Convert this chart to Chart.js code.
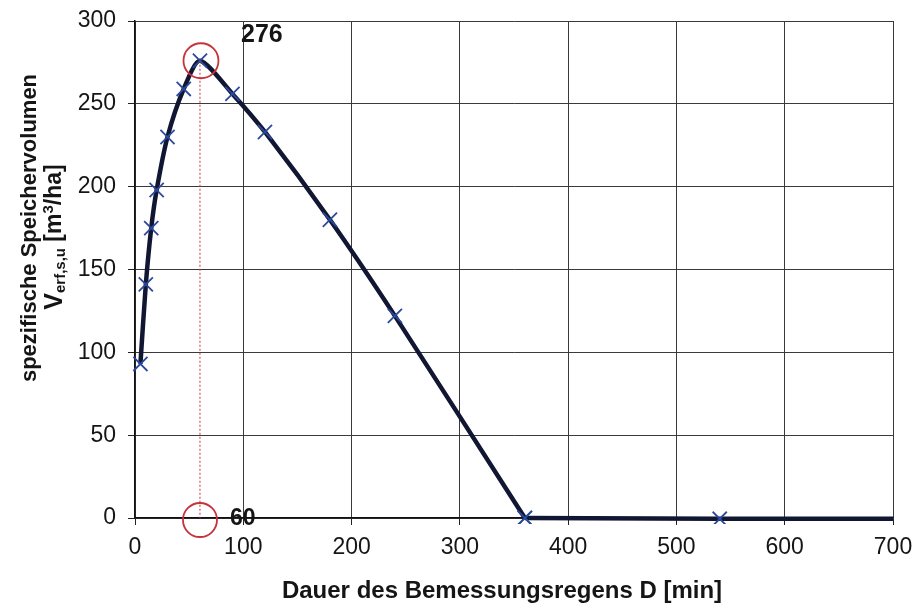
<!DOCTYPE html>
<html><head><meta charset="utf-8">
<script src="https://cdn.jsdelivr.net/npm/chart.js@4/dist/chart.umd.min.js"></script>
<style>html,body{margin:0;padding:0;background:#fff;}canvas{display:block;}</style>
</head><body>
<canvas id="c" width="915" height="607"></canvas>
<script>
// Data
const durations = [5, 10, 15, 20, 30, 45, 60, 90, 120, 180, 240, 360, 540, 720];
const volumes   = [93, 141, 175, 198, 230, 259, 276, 256, 233, 180, 122, 0, -0.5, -0.5];
const xTicks = [0, 100, 200, 300, 400, 500, 600, 700];
const yTicks = [0, 50, 100, 150, 200, 250, 300];
const peakDuration = 60;
const peakVolume = 276;
const xTitle = 'Dauer des Bemessungsregens D [min]';
const yTitleLine1 = 'spezifische Speichervolumen';

const FONT = '"Liberation Sans", Arial, sans-serif';
const pts = durations.map((d, i) => ({x: d, y: volumes[i]}));
const splitAt = durations.indexOf(360);

const annotate = {
  id: 'annotate',
  afterDatasetsDraw(chart) {
    const ctx = chart.ctx, xs = chart.scales.x, ys = chart.scales.y;
    const px = xs.getPixelForValue(peakDuration);
    const py = ys.getPixelForValue(peakVolume);
    const p0 = ys.getPixelForValue(0);
    ctx.save();
    ctx.strokeStyle = '#c8323a';
    ctx.lineWidth = 1;
    ctx.setLineDash([2, 2]);
    ctx.beginPath(); ctx.moveTo(px, py); ctx.lineTo(px, p0); ctx.stroke();
    ctx.setLineDash([]);
    ctx.lineWidth = 1.8;
    ctx.beginPath(); ctx.arc(px + 1, py, 17.5, 0, Math.PI * 2); ctx.stroke();
    ctx.beginPath(); ctx.arc(px, p0 + 2, 17, 0, Math.PI * 2); ctx.stroke();
    ctx.fillStyle = '#151515';
    ctx.textBaseline = 'middle';
    ctx.textAlign = 'left';
    ctx.font = 'bold 25px ' + FONT;
    ctx.fillText(String(peakVolume), px + 41, py - 26);
    ctx.font = 'bold 23px ' + FONT;
    ctx.fillText(String(peakDuration), px + 30, p0 + 1);
    ctx.restore();
  },
  afterDraw(chart) {
    const ctx = chart.ctx;
    ctx.save();
    ctx.fillStyle = '#151515';
    ctx.font = 'bold 24px ' + FONT;
    ctx.textAlign = 'center';
    ctx.textBaseline = 'alphabetic';
    ctx.fillText(xTitle, 502, 598);
    ctx.textBaseline = 'middle';
    ctx.save();
    ctx.translate(30, 228);
    ctx.rotate(-Math.PI / 2);
    ctx.font = 'bold 22px ' + FONT;
    ctx.fillText(yTitleLine1, 0, 0);
    ctx.restore();
    ctx.save();
    ctx.translate(55, 237);
    ctx.rotate(-Math.PI / 2);
    const parts = [
      {t: 'V', f: 'bold 25px ', dy: 0},
      {t: 'erf,s,u', f: 'bold 15px ', dy: 6},
      {t: ' [m', f: 'bold 23px ', dy: 0},
      {t: '3', f: 'bold 15px ', dy: -6},
      {t: '/ha]', f: 'bold 23px ', dy: 0}
    ];
    let total = 0;
    parts.forEach(p => { ctx.font = p.f + FONT; p.w = ctx.measureText(p.t).width; total += p.w; });
    let x = -total / 2;
    ctx.textAlign = 'left';
    parts.forEach(p => { ctx.font = p.f + FONT; ctx.fillText(p.t, x, p.dy); x += p.w; });
    ctx.restore();
    ctx.restore();
  }
};

const common = {
  borderColor: '#111733',
  borderWidth: 4.5,
  tension: 0.25,
  pointStyle: 'crossRot',
  pointRadius: 10,
  pointBorderColor: '#2b4a9c',
  pointBorderWidth: 1.8,
  pointHoverRadius: 10,
  fill: false,
  clip: {left: 5, top: 5, right: 0, bottom: 6}
};

new Chart(document.getElementById('c'), {
  type: 'line',
  data: {
    datasets: [
      Object.assign({data: pts.slice(0, splitAt + 1)}, common),
      Object.assign({data: pts.slice(splitAt)}, common, {tension: 0})
    ]
  },
  options: {
    responsive: false,
    animation: false,
    events: [],
    layout: {padding: {top: 21, right: 22, left: 0, bottom: 0}},
    plugins: {legend: {display: false}, tooltip: {enabled: false}},
    scales: {
      x: {
        type: 'linear', min: 0, max: 700,
        afterBuildTicks: s => { s.ticks = xTicks.map(v => ({value: v})); },
        afterFit: s => { s.height = 89; s.paddingLeft = 0; s.paddingRight = 0; },
        grid: {color: '#3a3a3a', lineWidth: 1, tickLength: 7, tickColor: '#222'},
        border: {color: '#111', width: 1.5},
        ticks: {color: '#151515', font: {family: FONT, size: 23}, padding: 9, maxRotation: 0}
      },
      y: {
        type: 'linear', min: 0, max: 300,
        afterBuildTicks: s => { s.ticks = yTicks.map(v => ({value: v})); },
        afterFit: s => { s.width = 135; s.paddingTop = 0; s.paddingBottom = 0; },
        grid: {color: '#3a3a3a', lineWidth: 1, tickLength: 7, tickColor: '#222'},
        border: {color: '#111', width: 1.5},
        ticks: {color: '#151515', font: {family: FONT, size: 23}, padding: 12}
      }
    }
  },
  plugins: [annotate]
});
</script>
</body></html>
